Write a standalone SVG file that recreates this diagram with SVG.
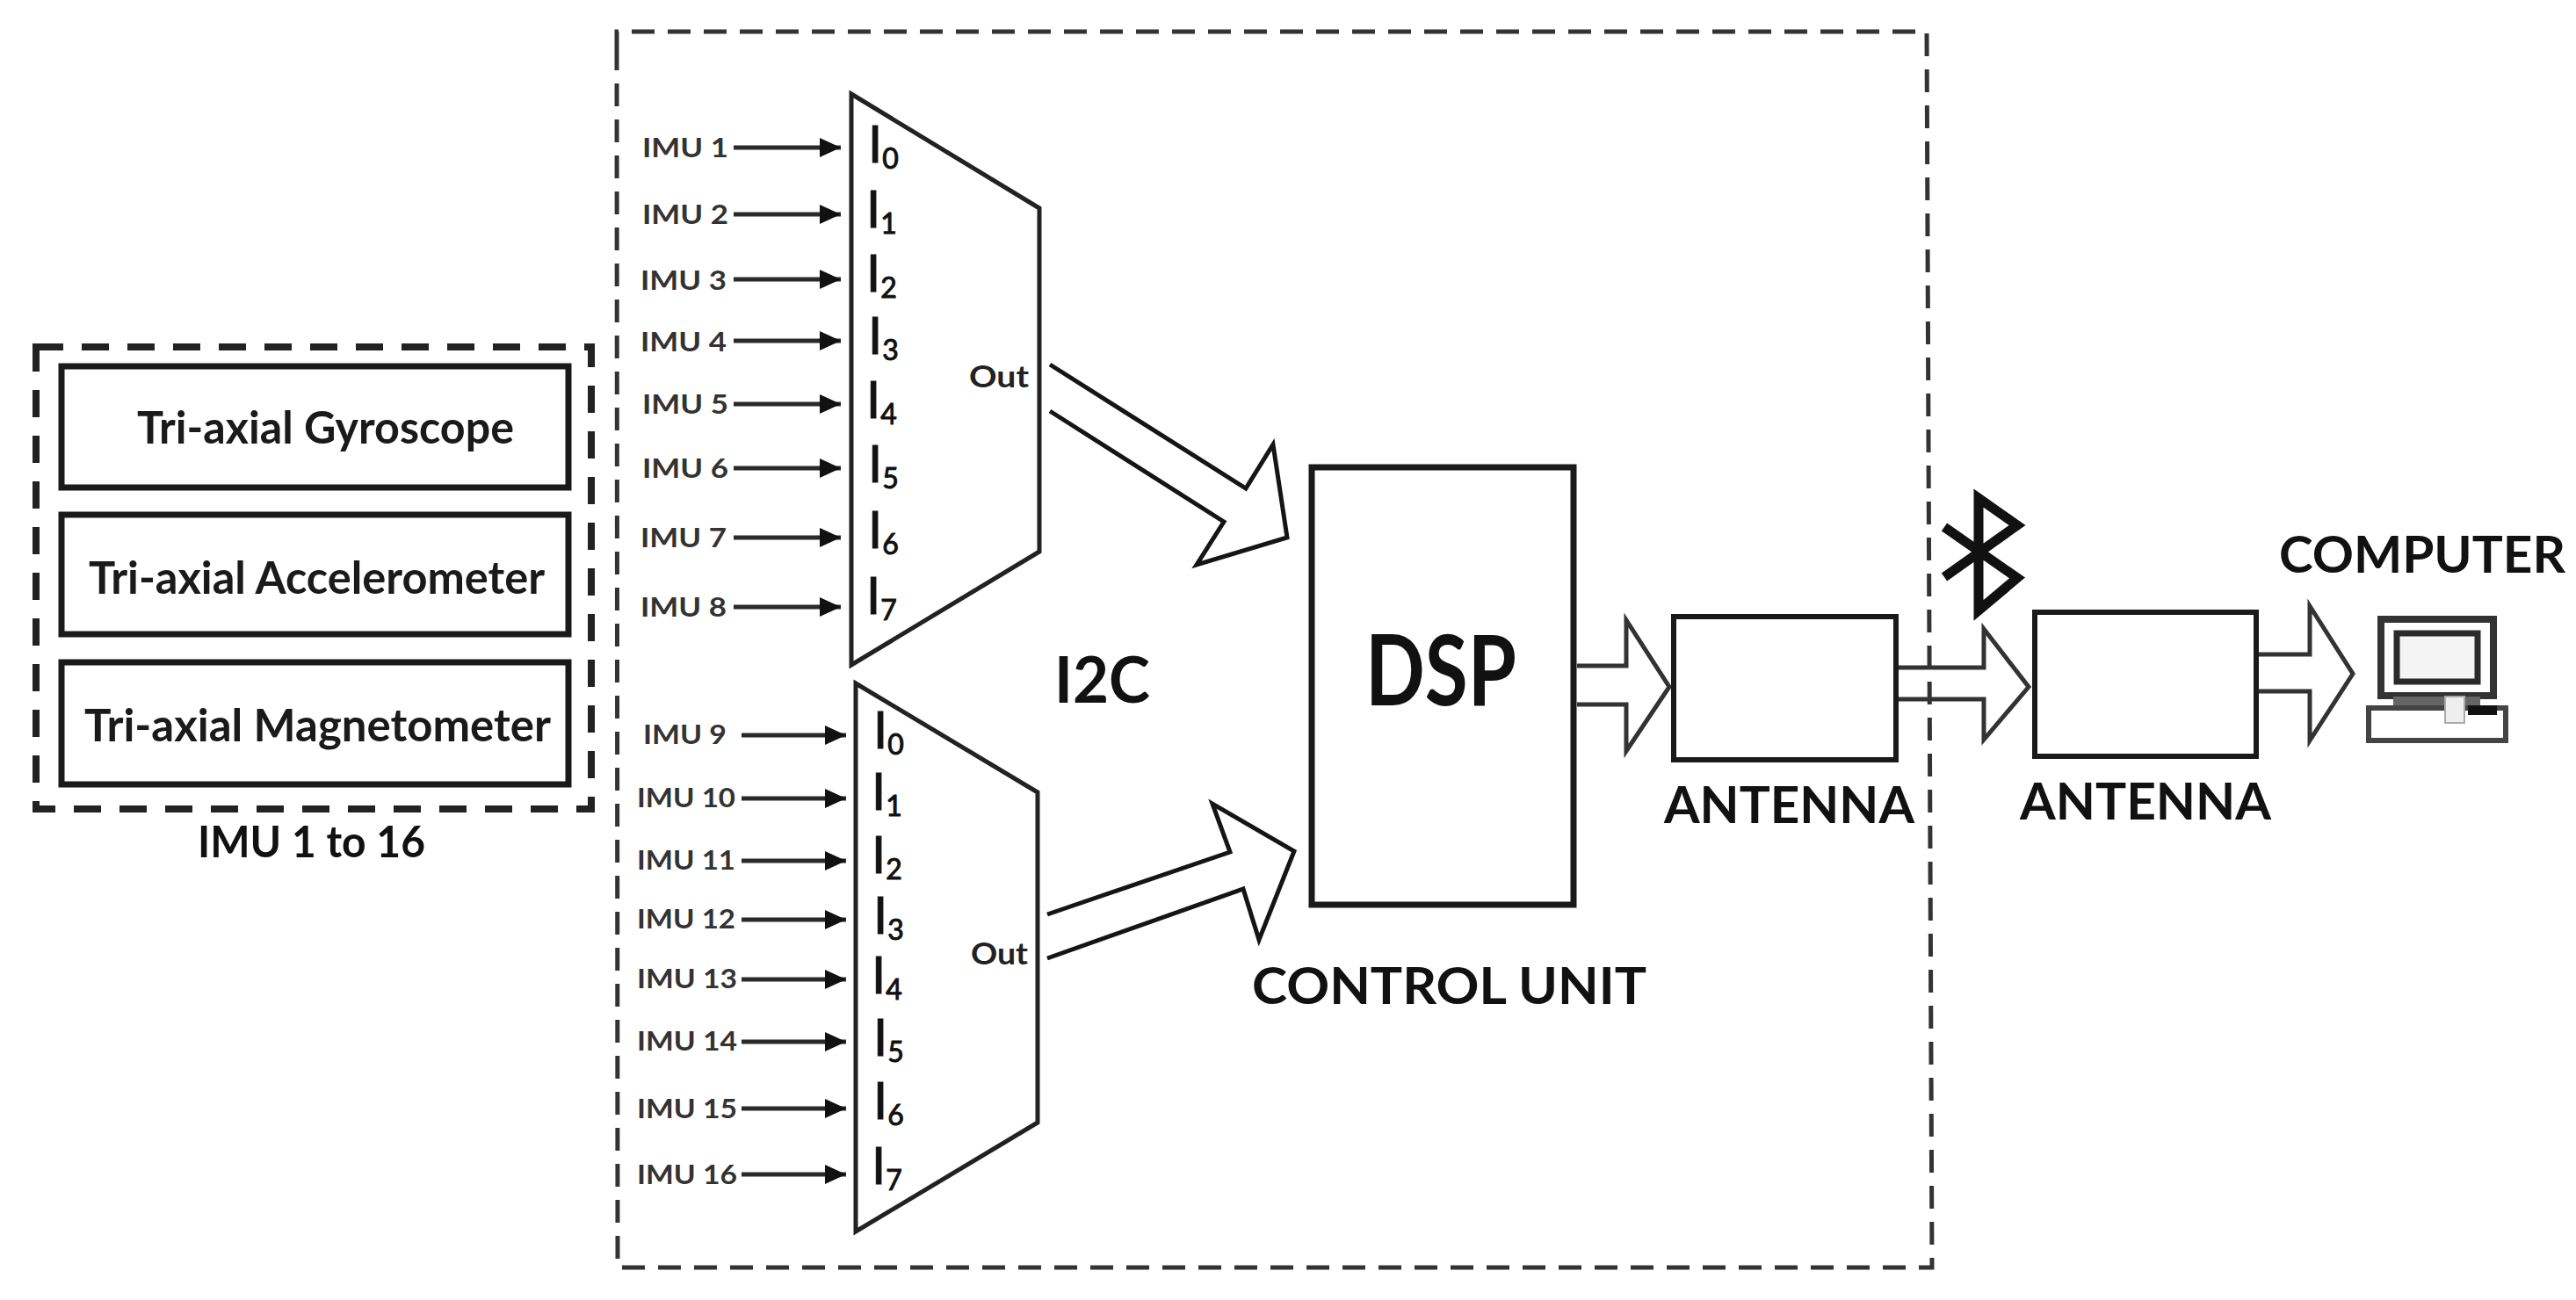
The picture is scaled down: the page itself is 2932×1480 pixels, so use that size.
<svg xmlns="http://www.w3.org/2000/svg" width="2932" height="1480" viewBox="0 0 2932 1480">
<style>
text{font-family:Lato,"Liberation Sans",sans-serif;fill:#111}
.b{font-weight:700}
.t{font-size:52px;font-weight:700;fill:#1a1a1a}
.h{font-size:57px;font-weight:700}
.imu{font-size:31px;font-weight:700;fill:#333}
.in{font-size:58px;font-weight:400;stroke:#111;stroke-width:1}
.in tspan{font-size:32px}
.out{font-size:35px;font-weight:700;fill:#222}
.box{fill:#fff;stroke:#1a1a1a;stroke-width:7}
.mux{fill:#fff;stroke:#222;stroke-width:5;stroke-linejoin:miter}
.hollow{fill:none;stroke:#151515;stroke-width:5;stroke-linejoin:miter}
.hollow2{fill:none;stroke:#333;stroke-width:5}
.sig{stroke:#2a2a2a;stroke-width:5;fill:none;marker-end:url(#ah)}
</style>
<defs>
<marker id="ah" markerUnits="userSpaceOnUse" markerWidth="26" markerHeight="22" refX="24" refY="11" orient="auto"><path d="M0 0 L24 11 L0 22 Z" fill="#111"/></marker>
</defs>
<rect width="2932" height="1480" fill="#fff"/>
<g id="control-unit-boundary"><path d="M702 60 L702 36 L2193 36 L2199 1443 L703 1443 Z" fill="none" stroke="#333" stroke-width="5" stroke-dasharray="26 15"/></g>
<g id="imu-group">
<path d="M41 395 L673 395 L673 921 L41 921 Z" fill="none" stroke="#222" stroke-width="8" stroke-dasharray="31 21"/>
<g id="gyroscope"><rect class="box" x="70" y="417" width="577" height="138"/><text class="t" x="156" y="505" textLength="429" lengthAdjust="spacingAndGlyphs">Tri-axial Gyroscope</text></g>
<g id="accelerometer"><rect class="box" x="70" y="586" width="577" height="136"/><text class="t" x="101" y="676" textLength="519" lengthAdjust="spacingAndGlyphs">Tri-axial Accelerometer</text></g>
<g id="magnetometer"><rect class="box" x="70" y="754" width="577" height="139"/><text class="t" x="96" y="844" textLength="531" lengthAdjust="spacingAndGlyphs">Tri-axial Magnetometer</text></g>
<text class="b" font-size="50" x="225" y="976" textLength="259" lengthAdjust="spacingAndGlyphs">IMU 1 to 16</text>
</g>
<g id="connectors">
<line class="sig" x1="835" y1="168" x2="957" y2="168"/>
<line class="sig" x1="835" y1="244" x2="957" y2="244"/>
<line class="sig" x1="835" y1="318" x2="957" y2="318"/>
<line class="sig" x1="835" y1="388" x2="957" y2="388"/>
<line class="sig" x1="835" y1="460" x2="957" y2="460"/>
<line class="sig" x1="835" y1="533" x2="957" y2="533"/>
<line class="sig" x1="835" y1="612" x2="957" y2="612"/>
<line class="sig" x1="835" y1="691" x2="957" y2="691"/>
<line class="sig" x1="844" y1="837" x2="963" y2="837"/>
<line class="sig" x1="844" y1="909" x2="963" y2="909"/>
<line class="sig" x1="844" y1="980" x2="963" y2="980"/>
<line class="sig" x1="844" y1="1047" x2="963" y2="1047"/>
<line class="sig" x1="844" y1="1115" x2="963" y2="1115"/>
<line class="sig" x1="844" y1="1186" x2="963" y2="1186"/>
<line class="sig" x1="844" y1="1262" x2="963" y2="1262"/>
<line class="sig" x1="844" y1="1337" x2="963" y2="1337"/>
<polyline class="hollow" points="1195,415 1418,556 1449,506 1465,612 1362,643 1393,594 1195,468"/>
<polyline class="hollow" points="1192,1041 1400,970 1380,915 1473,969 1433,1070 1415,1012 1192,1091"/>
<polyline class="hollow2" points="1795,758 1851,758 1851,706 1900,782 1851,855 1851,802 1795,802"/>
<polyline class="hollow2" points="2158,760 2258,760 2258,716 2309,782 2258,842 2258,796 2158,796"/>
<polyline class="hollow2" points="2570,745 2629,745 2629,690 2678,767 2629,843 2629,787 2570,787"/>
</g>
<g id="imu-labels-1">
<text class="imu" x="731" y="179" textLength="98" lengthAdjust="spacingAndGlyphs">IMU 1</text>
<text class="imu" x="731" y="255" textLength="98" lengthAdjust="spacingAndGlyphs">IMU 2</text>
<text class="imu" x="729" y="330" textLength="98" lengthAdjust="spacingAndGlyphs">IMU 3</text>
<text class="imu" x="729" y="400" textLength="98" lengthAdjust="spacingAndGlyphs">IMU 4</text>
<text class="imu" x="731" y="471" textLength="98" lengthAdjust="spacingAndGlyphs">IMU 5</text>
<text class="imu" x="731" y="544" textLength="98" lengthAdjust="spacingAndGlyphs">IMU 6</text>
<text class="imu" x="729" y="623" textLength="98" lengthAdjust="spacingAndGlyphs">IMU 7</text>
<text class="imu" x="729" y="702" textLength="98" lengthAdjust="spacingAndGlyphs">IMU 8</text>
</g>
<g id="imu-labels-2">
<text class="imu" x="732" y="847" textLength="95" lengthAdjust="spacingAndGlyphs">IMU 9</text>
<text class="imu" x="725" y="919" textLength="112" lengthAdjust="spacingAndGlyphs">IMU 10</text>
<text class="imu" x="725" y="990" textLength="112" lengthAdjust="spacingAndGlyphs">IMU 11</text>
<text class="imu" x="725" y="1057" textLength="112" lengthAdjust="spacingAndGlyphs">IMU 12</text>
<text class="imu" x="725" y="1125" textLength="114" lengthAdjust="spacingAndGlyphs">IMU 13</text>
<text class="imu" x="725" y="1196" textLength="114" lengthAdjust="spacingAndGlyphs">IMU 14</text>
<text class="imu" x="725" y="1273" textLength="114" lengthAdjust="spacingAndGlyphs">IMU 15</text>
<text class="imu" x="725" y="1348" textLength="114" lengthAdjust="spacingAndGlyphs">IMU 16</text>
</g>
<g id="mux-1">
<polygon class="mux" points="969,107 1183,237 1183,628 969,757"/>
<text class="in" x="988" y="185">I<tspan dy="7">0</tspan></text>
<text class="in" x="986" y="259">I<tspan dy="7">1</tspan></text>
<text class="in" x="986" y="332">I<tspan dy="7">2</tspan></text>
<text class="in" x="988" y="403">I<tspan dy="7">3</tspan></text>
<text class="in" x="986" y="476">I<tspan dy="7">4</tspan></text>
<text class="in" x="988" y="549">I<tspan dy="7">5</tspan></text>
<text class="in" x="988" y="624">I<tspan dy="7">6</tspan></text>
<text class="in" x="986" y="699">I<tspan dy="7">7</tspan></text>
<text class="out" x="1103" y="441" textLength="68" lengthAdjust="spacingAndGlyphs">Out</text>
</g>
<g id="mux-2">
<polygon class="mux" points="974,778 1181,902 1181,1278 974,1402"/>
<text class="in" x="994" y="852">I<tspan dy="7">0</tspan></text>
<text class="in" x="992" y="922">I<tspan dy="7">1</tspan></text>
<text class="in" x="992" y="994">I<tspan dy="7">2</tspan></text>
<text class="in" x="994" y="1063">I<tspan dy="7">3</tspan></text>
<text class="in" x="992" y="1131">I<tspan dy="7">4</tspan></text>
<text class="in" x="994" y="1202">I<tspan dy="7">5</tspan></text>
<text class="in" x="994" y="1274">I<tspan dy="7">6</tspan></text>
<text class="in" x="992" y="1348">I<tspan dy="7">7</tspan></text>
<text class="out" x="1105" y="1098" textLength="65" lengthAdjust="spacingAndGlyphs">Out</text>
</g>
<g id="i2c-label"><text class="b" font-size="72" x="1200" y="800" textLength="109" lengthAdjust="spacingAndGlyphs">I2C</text></g>
<g id="dsp"><rect class="box" x="1493" y="532" width="298" height="498"/><text class="b" font-size="112" x="1554" y="803" textLength="172" lengthAdjust="spacingAndGlyphs">DSP</text></g>
<g id="control-unit-label"><text class="h" x="1425" y="1143" textLength="449" lengthAdjust="spacingAndGlyphs">CONTROL UNIT</text></g>
<g id="antenna-1"><rect class="box" style="fill:none;stroke-width:6" x="1905" y="702" width="253" height="163"/><text class="h" x="1894" y="937" textLength="285" lengthAdjust="spacingAndGlyphs">ANTENNA</text></g>
<g id="antenna-2"><rect class="box" style="fill:none;stroke-width:6" x="2316" y="697" width="252" height="164"/><text class="h" x="2299" y="933" textLength="286" lengthAdjust="spacingAndGlyphs">ANTENNA</text></g>
<g id="bluetooth"><path d="M2213 600 L2296 658 L2252 695 L2252 567 L2296 598 L2213 657" fill="none" stroke="#111" stroke-width="11"/></g>
<g id="computer">
<rect x="2710" y="705" width="128" height="87" fill="#fff" stroke="#333" stroke-width="8"/>
<rect x="2728" y="721" width="92" height="55" fill="#f4f4f4" stroke="#2a2a2a" stroke-width="7"/>
<rect x="2724" y="793" width="99" height="12" fill="#666"/>
<rect x="2696" y="806" width="156" height="37" fill="#fff" stroke="#444" stroke-width="6"/>
<rect x="2783" y="793" width="22" height="30" fill="#eee" stroke="#aaa" stroke-width="2"/>
<rect x="2809" y="803" width="33" height="11" fill="#111"/>
<text class="h" x="2594" y="652" textLength="326" lengthAdjust="spacingAndGlyphs">COMPUTER</text>
</g>
</svg>
